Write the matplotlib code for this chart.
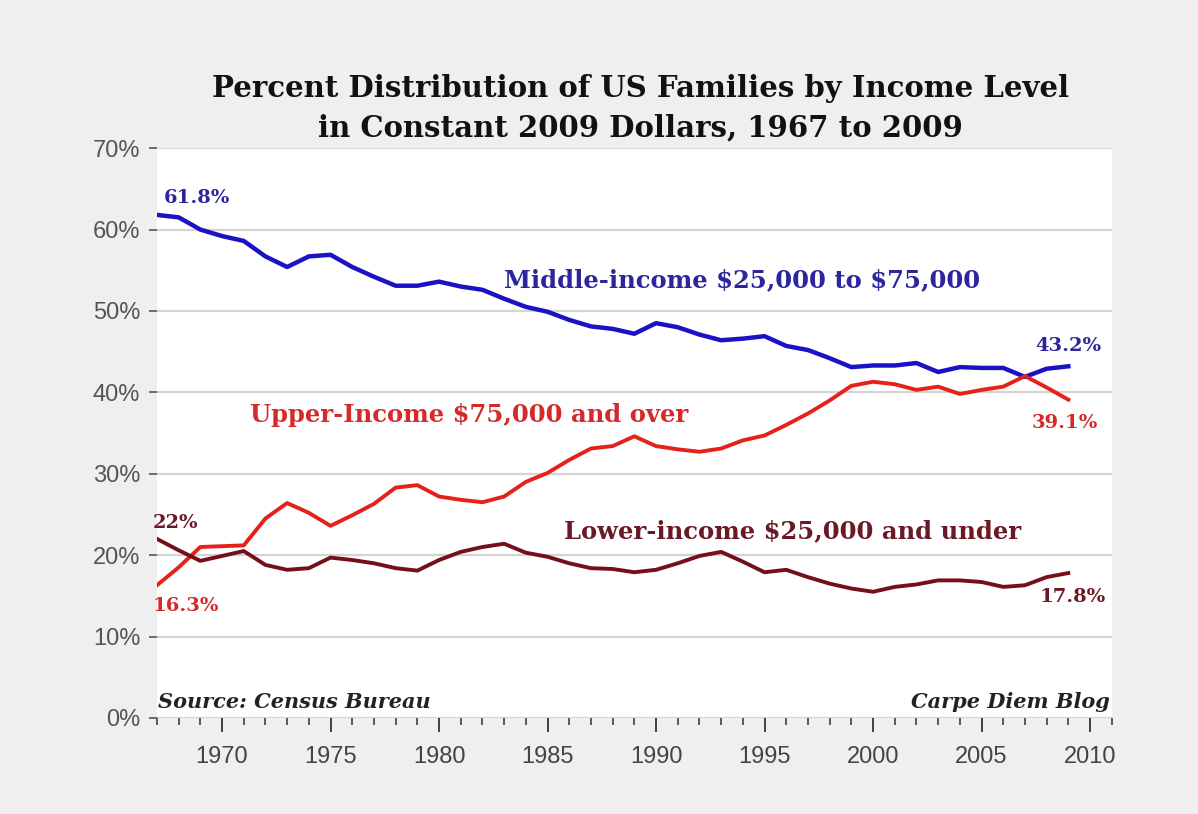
# -*- coding: utf-8 -*-
import matplotlib.pyplot as plt
from matplotlib.ticker import MultipleLocator, FuncFormatter

years = list(range(1967, 2010))

middle = [61.8, 61.5, 60.0, 59.2, 58.6, 56.7, 55.4, 56.7, 56.9, 55.4,
          54.2, 53.1, 53.1, 53.6, 53.0, 52.6, 51.5, 50.5, 49.9, 48.9,
          48.1, 47.8, 47.2, 48.5, 48.0, 47.1, 46.4, 46.6, 46.9, 45.7,
          45.2, 44.2, 43.1, 43.3, 43.3, 43.6, 42.5, 43.1, 43.0, 43.0,
          41.9, 42.9, 43.2]

upper = [16.3, 18.5, 21.0, 21.1, 21.2, 24.5, 26.4, 25.2, 23.6, 24.9,
         26.3, 28.3, 28.6, 27.2, 26.8, 26.5, 27.2, 29.0, 30.1, 31.7,
         33.1, 33.4, 34.6, 33.4, 33.0, 32.7, 33.1, 34.1, 34.7, 36.0,
         37.4, 39.0, 40.8, 41.3, 41.0, 40.3, 40.7, 39.8, 40.3, 40.7,
         42.0, 40.6, 39.1]

lower = [22.0, 20.6, 19.3, 19.9, 20.5, 18.8, 18.2, 18.4, 19.7, 19.4,
         19.0, 18.4, 18.1, 19.4, 20.4, 21.0, 21.4, 20.3, 19.8, 19.0,
         18.4, 18.3, 17.9, 18.2, 19.0, 19.9, 20.4, 19.2, 17.9, 18.2,
         17.3, 16.5, 15.9, 15.5, 16.1, 16.4, 16.9, 16.9, 16.7, 16.1,
         16.3, 17.3, 17.8]

title = "Percent Distribution of US Families by Income Level\nin Constant 2009 Dollars, 1967 to 2009"

blue = "#1a12c4"
red = "#e4221c"
darkred = "#74101a"
blue_txt = "#2c269c"
red_txt = "#d42a2a"
darkred_txt = "#6a1a22"

fig = plt.figure(figsize=(11.98, 8.14), dpi=100)
fig.patch.set_facecolor("#efefef")
ax = fig.add_axes([0.131, 0.118, 0.797, 0.700])
ax.set_facecolor("white")

ax.plot(years, middle, color=blue, lw=3.2, solid_joinstyle="round")
ax.plot(years, upper, color=red, lw=2.8, solid_joinstyle="round")
ax.plot(years, lower, color=darkred, lw=2.8, solid_joinstyle="round")

ax.set_xlim(1967, 2011)
ax.set_ylim(0, 70)
ax.yaxis.set_major_locator(MultipleLocator(10))
ax.yaxis.set_major_formatter(FuncFormatter(lambda v, p: "%d%%" % v))
ax.xaxis.set_major_locator(MultipleLocator(5))
ax.xaxis.set_minor_locator(MultipleLocator(1))
ax.grid(axis="y", color="#d4d4d4", lw=1.6)
ax.set_axisbelow(True)
for s in ax.spines.values():
	s.set_visible(False)

ax.tick_params(axis="y", length=6, width=1.2, color="#555555", pad=6,
               labelsize=17, labelcolor="#555555")
ax.tick_params(axis="x", which="major", length=10, width=1.3, color="#333333",
               pad=10, labelsize=17, labelcolor="#444444")
ax.tick_params(axis="x", which="minor", length=5, width=1.1, color="#333333")
for lab in ax.get_xticklabels() + ax.get_yticklabels():
	lab.set_family("Liberation Sans")

serif = "DejaVu Serif"
fig.text(0.535, 0.867, title, ha="center", va="center", fontsize=21,
         fontweight="bold", family=serif, linespacing=1.45,
         color="#111111")

# series labels
ax.text(1983.0, 53.8, "Middle-income \\$25,000 to \\$75,000", color=blue_txt,
        fontsize=17.5, fontweight="bold", family=serif, va="center")
ax.text(1971.3, 37.2, "Upper-Income \\$75,000 and over", color=red_txt,
        fontsize=17.5, fontweight="bold", family=serif, va="center")
ax.text(1985.75, 23.0, "Lower-income \\$25,000 and under", color=darkred_txt,
        fontsize=17.5, fontweight="bold", family=serif, va="center")

# end point values
ax.text(1967.3, 63.9, "61.8%", color=blue_txt, fontsize=14, fontweight="bold", family=serif, va="center")
ax.text(2009.0, 45.7, "43.2%", color=blue_txt, fontsize=14, fontweight="bold", family=serif, va="center", ha="center")
ax.text(2008.85, 36.2, "39.1%", color=red_txt, fontsize=14, fontweight="bold", family=serif, va="center", ha="center")
ax.text(1966.8, 13.8, "16.3%", color=red_txt, fontsize=14, fontweight="bold", family=serif, va="center")
ax.text(1966.8, 23.9, "22%", color=darkred_txt, fontsize=14, fontweight="bold", family=serif, va="center")
ax.text(2009.2, 14.8, "17.8%", color=darkred_txt, fontsize=14, fontweight="bold", family=serif, va="center", ha="center")

ax.text(1967.05, 2.0, "Source: Census Bureau", fontsize=15, fontweight="bold",
        style="italic", family=serif, va="center", color="#222222")
ax.text(2010.9, 2.0, "Carpe Diem Blog", fontsize=15, fontweight="bold",
        style="italic", family=serif, va="center", ha="right", color="#222222")

plt.savefig("out.png", dpi=100, facecolor=fig.get_facecolor())
